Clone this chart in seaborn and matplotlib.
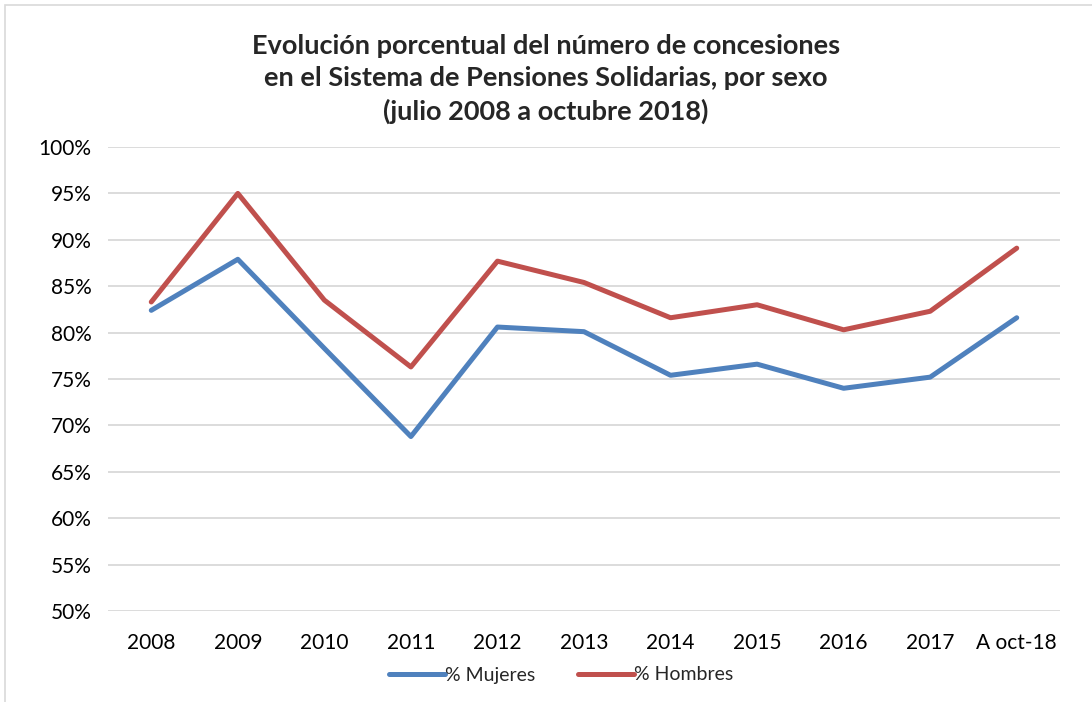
import pandas as pd
import matplotlib.pyplot as plt
import seaborn as sns
from matplotlib.patches import Rectangle
from matplotlib.ticker import FuncFormatter

# datos
anios = ['2008', '2009', '2010', '2011', '2012', '2013', '2014',
         '2015', '2016', '2017', 'A oct-18']
mujeres = [82.4, 87.9, 78.3, 68.8, 80.6, 80.1, 75.4, 76.6, 74.0, 75.2, 81.6]
hombres = [83.3, 95.0, 83.5, 76.3, 87.7, 85.4, 81.6, 83.0, 80.3, 82.3, 89.1]

titulo = ('Evolución porcentual del número de concesiones\n'
          'en el Sistema de Pensiones Solidarias, por sexo\n'
          '(julio 2008 a octubre 2018)')

df = pd.DataFrame({
    'anio': anios * 2,
    'valor': mujeres + hombres,
    'serie': ['% Mujeres'] * len(anios) + ['% Hombres'] * len(anios),
})

sns.set_theme(style='white')
plt.rcParams['font.family'] = ['Lato', 'DejaVu Sans']

fig = plt.figure(figsize=(10.92, 7.02), dpi=100)
ax = fig.add_axes([108 / 1092, 1 - 611 / 702, (1060 - 108) / 1092, (611 - 147) / 702])

sns.lineplot(data=df, x='anio', y='valor', hue='serie', sort=False,
             palette={'% Mujeres': '#4F81BD', '% Hombres': '#C0504D'},
             linewidth=3.6, ax=ax)

ax.set_ylim(50, 100)
ax.set_yticks(range(50, 101, 5))
ax.yaxis.set_major_formatter(FuncFormatter(lambda v, p: f'{v:.0f}%'))
ax.set_xlim(-0.5, len(anios) - 0.5)
ax.grid(axis='y', color='#D9D9D9', linewidth=1.3)
ax.set_axisbelow(True)
for s in ax.spines.values():
    s.set_visible(False)
ax.tick_params(axis='both', labelsize=15, colors='black', length=0)
ax.tick_params(axis='x', pad=16)
ax.tick_params(axis='y', pad=12)
ax.set_xlabel('')
ax.set_ylabel('')

ax.legend(loc='center', bbox_to_anchor=(0.476, 1 - (675 - 147) / 464), ncol=2,
          frameon=False, fontsize=14, handlelength=2.9, columnspacing=2.2,
          handletextpad=0.0)

fig.text(0.5, 1 - 79 / 702, titulo, ha='center', va='center',
         fontsize=19.5, fontweight='bold', linespacing=1.4)

# borde del gráfico
fig.patches.append(Rectangle((5 / 1092, -0.01), 1.1, 1 - 5 / 702 + 0.01,
                             transform=fig.transFigure, fill=False,
                             edgecolor='#D9D9D9', linewidth=1.2))

fig.savefig('out.png', dpi=100)
